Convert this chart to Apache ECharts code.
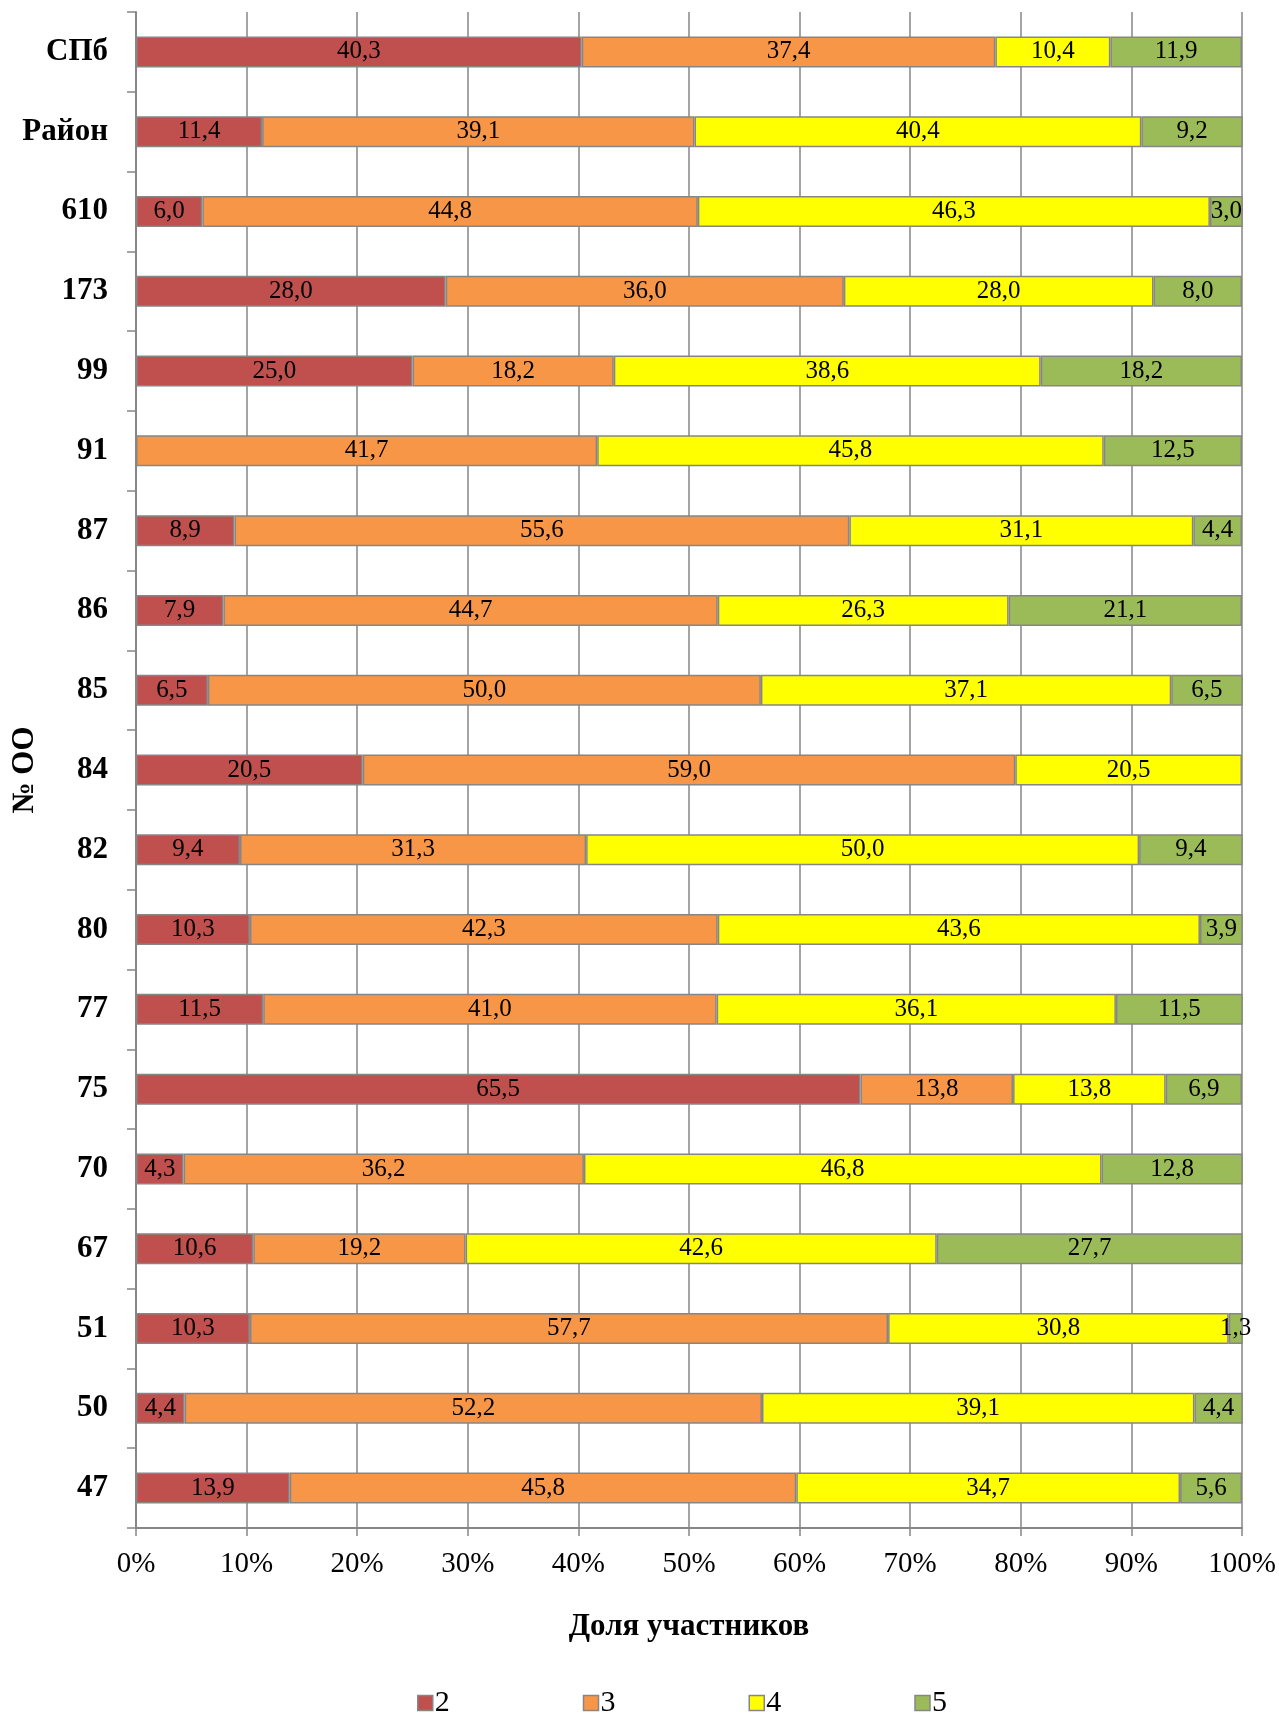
<!DOCTYPE html>
<html>
<head>
<meta charset="utf-8">
<title>Доля участников</title>
<script src="https://cdn.jsdelivr.net/npm/echarts@6/dist/echarts.min.js"></script>
<style>
    html, body { margin: 0; padding: 0; background: #fff; }
    #chart { width: 1279px; height: 1714px; }
</style>
</head>
<body>
<div id="chart"></div>
<script>
// номера ОО сверху вниз
var schools = ['СПб', 'Район', '610', '173', '99', '91', '87', '86', '85', '84',
    '82', '80', '77', '75', '70', '67', '51', '50', '47'];
// доли участников по отметкам, %
var mark2 = [40.3, 11.4, 6.0, 28.0, 25.0, null, 8.9, 7.9, 6.5, 20.5,
    9.4, 10.3, 11.5, 65.5, 4.3, 10.6, 10.3, 4.4, 13.9];
var mark3 = [37.4, 39.1, 44.8, 36.0, 18.2, 41.7, 55.6, 44.7, 50.0, 59.0,
    31.3, 42.3, 41.0, 13.8, 36.2, 19.2, 57.7, 52.2, 45.8];
var mark4 = [10.4, 40.4, 46.3, 28.0, 38.6, 45.8, 31.1, 26.3, 37.1, 20.5,
    50.0, 43.6, 36.1, 13.8, 46.8, 42.6, 30.8, 39.1, 34.7];
var mark5 = [11.9, 9.2, 3.0, 8.0, 18.2, 12.5, 4.4, 21.1, 6.5, null,
    9.4, 3.9, 11.5, 6.9, 12.8, 27.7, 1.3, 4.4, 5.6];
var markNames = ['2', '3', '4', '5'];
var markColors = ['#C0504D', '#F79646', '#FFFF00', '#9BBB59'];

var serif = '"Liberation Serif", "Times New Roman", serif';
var gray = '#868686';

var myChart = echarts.init(document.getElementById('chart'));

function makeSeries(name, data, color) {
    return {
        name: name,
        type: 'bar',
        stack: 'total',
        barWidth: 31,
        data: data,
        itemStyle: {
            color: color,
            borderColor: gray,
            borderWidth: 1.5
        },
        label: {
            show: true,
            position: 'inside',
            color: '#000',
            fontFamily: serif,
            fontSize: 25,
            formatter: function(p) {
                return p.value.toFixed(1).replace('.', ',');
            }
        }
    };
}

var series = [
    makeSeries(markNames[0], mark2, markColors[0]),
    makeSeries(markNames[1], mark3, markColors[1]),
    makeSeries(markNames[2], mark4, markColors[2]),
    makeSeries(markNames[3], mark5, markColors[3])
];

var option = {
    backgroundColor: '#fff',
    animation: false,
    grid: {
        left: 136,
        right: 37,
        top: 12,
        bottom: 186,
        outerBoundsMode: 'none'
    },
    legend: {
        data: markNames,
        left: 412,
        top: 1683,
        itemWidth: 15,
        itemHeight: 15,
        itemGap: 133,
        icon: 'rect',
        itemStyle: { borderColor: gray, borderWidth: 1.5 },
        textStyle: { fontFamily: serif, fontSize: 30, color: '#000', padding: [0, 0, 0, -3] }
    },
    xAxis: {
        type: 'value',
        min: 0,
        max: 100,
        interval: 10,
        name: 'Доля участников',
        nameLocation: 'middle',
        nameGap: 83,
        nameTextStyle: { fontFamily: serif, fontSize: 31, fontWeight: 'bold', color: '#000' },
        axisLine: { show: true, lineStyle: { color: gray, width: 2 } },
        axisTick: { show: true, length: 8, lineStyle: { color: gray, width: 1.5 } },
        axisLabel: {
            formatter: '{value}%',
            fontFamily: serif,
            fontSize: 29,
            color: '#000',
            margin: 22
        },
        splitLine: { show: true, lineStyle: { color: gray, width: 1.5 } }
    },
    yAxis: {
        type: 'category',
        data: schools,
        inverse: true,
        name: '№ ОО',
        nameLocation: 'middle',
        nameGap: 96,
        nameRotate: 90,
        nameMoveOverlap: false,
        nameTextStyle: { fontFamily: serif, fontSize: 31, fontWeight: 'bold', color: '#000' },
        axisLine: { show: true, lineStyle: { color: gray, width: 2 } },
        axisTick: { show: true, length: 9, interval: 0, lineStyle: { color: gray, width: 1.5 } },
        axisLabel: {
            fontFamily: serif,
            fontSize: 31,
            fontWeight: 'bold',
            color: '#000',
            margin: 28,
            interval: 0
        },
        splitLine: { show: false }
    },
    series: series
};

myChart.setOption(option);
</script>
</body>
</html>
